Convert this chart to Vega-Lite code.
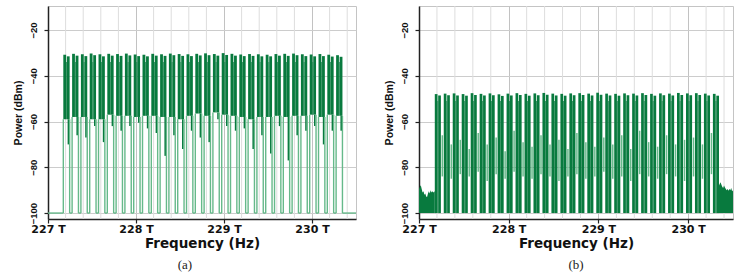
{
  "$schema": "https://vega.github.io/schema/vega-lite/v6.json",
  "padding": {"left": 12, "top": 5, "right": 4, "bottom": 0},
  "spacing": 25,
  "config": {
    "view": {"stroke": "#c4c4c4", "strokeWidth": 1},
    "axis": {"domainColor": "#222222", "domainWidth": 1.5, "tickColor": "#222222", "labelColor": "#111111", "titleColor": "#111111"}
  },
  "datasets": {
    "gridx": [
      {"gx": 227.2}, {"gx": 227.4}, {"gx": 227.6}, {"gx": 227.8},
      {"gx": 228.2}, {"gx": 228.4}, {"gx": 228.6}, {"gx": 228.8},
      {"gx": 229.2}, {"gx": 229.4}, {"gx": 229.6}, {"gx": 229.8},
      {"gx": 230.2}, {"gx": 230.4}
    ],
    "A": [
      {"lo": 227.174, "n1": 227.206, "n2": 227.214, "hi": 227.246, "g": 227.0, "tl": -30.8, "tr": -31.5, "b": -59, "s": 227.232, "sp": -70},
      {"lo": 227.274, "n1": 227.306, "n2": 227.314, "hi": 227.346, "g": 227.246, "tl": -30.4, "tr": -31.2, "b": -58, "s": 227.332, "sp": -66},
      {"lo": 227.374, "n1": 227.406, "n2": 227.414, "hi": 227.446, "g": 227.346, "tl": -30.6, "tr": -31.4, "b": -58, "s": 227.432, "sp": -67},
      {"lo": 227.474, "n1": 227.506, "n2": 227.514, "hi": 227.546, "g": 227.446, "tl": -30.3, "tr": -31.0, "b": -59, "s": 227.532, "sp": -62},
      {"lo": 227.574, "n1": 227.606, "n2": 227.614, "hi": 227.646, "g": 227.546, "tl": -30.6, "tr": -31.5, "b": -59, "s": 227.632, "sp": -69},
      {"lo": 227.674, "n1": 227.706, "n2": 227.714, "hi": 227.746, "g": 227.646, "tl": -30.4, "tr": -31.2, "b": -57, "s": 227.732, "sp": -62},
      {"lo": 227.774, "n1": 227.806, "n2": 227.814, "hi": 227.846, "g": 227.746, "tl": -30.5, "tr": -31.3, "b": -57.5, "s": 227.832, "sp": -64},
      {"lo": 227.874, "n1": 227.906, "n2": 227.914, "hi": 227.946, "g": 227.846, "tl": -30.3, "tr": -31.1, "b": -57.5, "s": 227.932, "sp": -62},
      {"lo": 227.974, "n1": 228.006, "n2": 228.014, "hi": 228.046, "g": 227.946, "tl": -30.7, "tr": -31.4, "b": -58, "s": 228.032, "sp": -60.5},
      {"lo": 228.074, "n1": 228.106, "n2": 228.114, "hi": 228.146, "g": 228.046, "tl": -30.8, "tr": -31.5, "b": -57.5, "s": 228.132, "sp": -63},
      {"lo": 228.174, "n1": 228.206, "n2": 228.214, "hi": 228.246, "g": 228.146, "tl": -30.4, "tr": -31.2, "b": -57.5, "s": 228.232, "sp": -65},
      {"lo": 228.274, "n1": 228.306, "n2": 228.314, "hi": 228.346, "g": 228.246, "tl": -30.6, "tr": -31.3, "b": -58, "s": 228.332, "sp": -75},
      {"lo": 228.374, "n1": 228.406, "n2": 228.414, "hi": 228.446, "g": 228.346, "tl": -30.3, "tr": -31.0, "b": -58, "s": 228.432, "sp": -66},
      {"lo": 228.474, "n1": 228.506, "n2": 228.514, "hi": 228.546, "g": 228.446, "tl": -30.5, "tr": -31.3, "b": -59, "s": 228.532, "sp": -72},
      {"lo": 228.574, "n1": 228.606, "n2": 228.614, "hi": 228.646, "g": 228.546, "tl": -30.6, "tr": -31.4, "b": -57.5, "s": 228.632, "sp": -64},
      {"lo": 228.674, "n1": 228.706, "n2": 228.714, "hi": 228.746, "g": 228.646, "tl": -30.4, "tr": -31.1, "b": -56.5, "s": 228.732, "sp": -67},
      {"lo": 228.774, "n1": 228.806, "n2": 228.814, "hi": 228.846, "g": 228.746, "tl": -30.2, "tr": -31.0, "b": -57.5, "s": 228.832, "sp": -69},
      {"lo": 228.874, "n1": 228.906, "n2": 228.914, "hi": 228.946, "g": 228.846, "tl": -30.5, "tr": -31.2, "b": -56, "s": 228.932, "sp": -59},
      {"lo": 228.974, "n1": 229.006, "n2": 229.014, "hi": 229.046, "g": 228.946, "tl": -30.1, "tr": -30.9, "b": -57, "s": 229.032, "sp": -62},
      {"lo": 229.074, "n1": 229.106, "n2": 229.114, "hi": 229.146, "g": 229.046, "tl": -30.4, "tr": -31.2, "b": -57.5, "s": 229.132, "sp": -64},
      {"lo": 229.174, "n1": 229.206, "n2": 229.214, "hi": 229.246, "g": 229.146, "tl": -30.7, "tr": -31.4, "b": -58, "s": 229.232, "sp": -63},
      {"lo": 229.274, "n1": 229.306, "n2": 229.314, "hi": 229.346, "g": 229.246, "tl": -30.5, "tr": -31.3, "b": -59, "s": 229.332, "sp": -72},
      {"lo": 229.374, "n1": 229.406, "n2": 229.414, "hi": 229.446, "g": 229.346, "tl": -30.6, "tr": -31.5, "b": -58, "s": 229.432, "sp": -66},
      {"lo": 229.474, "n1": 229.506, "n2": 229.514, "hi": 229.546, "g": 229.446, "tl": -30.8, "tr": -31.5, "b": -58, "s": 229.532, "sp": -74},
      {"lo": 229.574, "n1": 229.606, "n2": 229.614, "hi": 229.646, "g": 229.546, "tl": -30.5, "tr": -31.2, "b": -57.5, "s": 229.632, "sp": -62},
      {"lo": 229.674, "n1": 229.706, "n2": 229.714, "hi": 229.746, "g": 229.646, "tl": -30.4, "tr": -31.3, "b": -58, "s": 229.732, "sp": -77},
      {"lo": 229.774, "n1": 229.806, "n2": 229.814, "hi": 229.846, "g": 229.746, "tl": -30.3, "tr": -31.0, "b": -57.5, "s": 229.832, "sp": -66},
      {"lo": 229.874, "n1": 229.906, "n2": 229.914, "hi": 229.946, "g": 229.846, "tl": -30.6, "tr": -31.4, "b": -57.5, "s": 229.932, "sp": -64},
      {"lo": 229.974, "n1": 230.006, "n2": 230.014, "hi": 230.046, "g": 229.946, "tl": -30.7, "tr": -31.5, "b": -57, "s": 230.032, "sp": -62},
      {"lo": 230.074, "n1": 230.106, "n2": 230.114, "hi": 230.146, "g": 230.046, "tl": -30.5, "tr": -31.4, "b": -58, "s": 230.132, "sp": -70},
      {"lo": 230.174, "n1": 230.206, "n2": 230.214, "hi": 230.246, "g": 230.146, "tl": -30.8, "tr": -31.6, "b": -57, "s": 230.232, "sp": -64},
      {"lo": 230.274, "n1": 230.306, "n2": 230.314, "hi": 230.346, "g": 230.246, "tl": -31.0, "tr": -31.7, "b": -57.5, "s": 230.332, "sp": -64}
    ],
    "Atail": [{"g": 230.346, "lo": 230.5}],
    "B": [
      {"lo": 227.176, "n1": 227.206, "n2": 227.214, "hi": 227.244, "gx": 227.26, "tl": -48.0, "tr": -48.6, "gt": -66, "gb": -84},
      {"lo": 227.276, "n1": 227.306, "n2": 227.314, "hi": 227.344, "gx": 227.36, "tl": -47.8, "tr": -48.5, "gt": -70, "gb": -85},
      {"lo": 227.376, "n1": 227.406, "n2": 227.414, "hi": 227.444, "gx": 227.46, "tl": -47.7, "tr": -48.6, "gt": -68, "gb": -83},
      {"lo": 227.476, "n1": 227.506, "n2": 227.514, "hi": 227.544, "gx": 227.56, "tl": -48.0, "tr": -48.7, "gt": -72, "gb": -84},
      {"lo": 227.576, "n1": 227.606, "n2": 227.614, "hi": 227.644, "gx": 227.66, "tl": -47.6, "tr": -48.4, "gt": -65, "gb": -82},
      {"lo": 227.676, "n1": 227.706, "n2": 227.714, "hi": 227.744, "gx": 227.76, "tl": -47.9, "tr": -48.6, "gt": -70, "gb": -86},
      {"lo": 227.776, "n1": 227.806, "n2": 227.814, "hi": 227.844, "gx": 227.86, "tl": -47.7, "tr": -48.5, "gt": -67, "gb": -83},
      {"lo": 227.876, "n1": 227.906, "n2": 227.914, "hi": 227.944, "gx": 227.96, "tl": -48.1, "tr": -48.8, "gt": -73, "gb": -85},
      {"lo": 227.976, "n1": 228.006, "n2": 228.014, "hi": 228.044, "gx": 228.06, "tl": -47.8, "tr": -48.6, "gt": -64, "gb": -82},
      {"lo": 228.076, "n1": 228.106, "n2": 228.114, "hi": 228.144, "gx": 228.16, "tl": -47.6, "tr": -48.4, "gt": -69, "gb": -84},
      {"lo": 228.176, "n1": 228.206, "n2": 228.214, "hi": 228.244, "gx": 228.26, "tl": -47.9, "tr": -48.7, "gt": -71, "gb": -85},
      {"lo": 228.276, "n1": 228.306, "n2": 228.314, "hi": 228.344, "gx": 228.36, "tl": -47.7, "tr": -48.5, "gt": -66, "gb": -83},
      {"lo": 228.376, "n1": 228.406, "n2": 228.414, "hi": 228.444, "gx": 228.46, "tl": -47.5, "tr": -48.3, "gt": -70, "gb": -84},
      {"lo": 228.476, "n1": 228.506, "n2": 228.514, "hi": 228.544, "gx": 228.56, "tl": -47.8, "tr": -48.6, "gt": -68, "gb": -86},
      {"lo": 228.576, "n1": 228.606, "n2": 228.614, "hi": 228.644, "gx": 228.66, "tl": -47.9, "tr": -48.7, "gt": -72, "gb": -84},
      {"lo": 228.676, "n1": 228.706, "n2": 228.714, "hi": 228.744, "gx": 228.76, "tl": -47.7, "tr": -48.5, "gt": -65, "gb": -83},
      {"lo": 228.776, "n1": 228.806, "n2": 228.814, "hi": 228.844, "gx": 228.86, "tl": -47.6, "tr": -48.4, "gt": -69, "gb": -85},
      {"lo": 228.876, "n1": 228.906, "n2": 228.914, "hi": 228.944, "gx": 228.96, "tl": -47.8, "tr": -48.6, "gt": -71, "gb": -84},
      {"lo": 228.976, "n1": 229.006, "n2": 229.014, "hi": 229.044, "gx": 229.06, "tl": -47.4, "tr": -48.3, "gt": -67, "gb": -82},
      {"lo": 229.076, "n1": 229.106, "n2": 229.114, "hi": 229.144, "gx": 229.16, "tl": -47.8, "tr": -48.6, "gt": -70, "gb": -85},
      {"lo": 229.176, "n1": 229.206, "n2": 229.214, "hi": 229.244, "gx": 229.26, "tl": -47.9, "tr": -48.7, "gt": -66, "gb": -84},
      {"lo": 229.276, "n1": 229.306, "n2": 229.314, "hi": 229.344, "gx": 229.36, "tl": -47.7, "tr": -48.5, "gt": -72, "gb": -86},
      {"lo": 229.376, "n1": 229.406, "n2": 229.414, "hi": 229.444, "gx": 229.46, "tl": -47.8, "tr": -48.6, "gt": -64, "gb": -83},
      {"lo": 229.476, "n1": 229.506, "n2": 229.514, "hi": 229.544, "gx": 229.56, "tl": -47.6, "tr": -48.4, "gt": -69, "gb": -84},
      {"lo": 229.576, "n1": 229.606, "n2": 229.614, "hi": 229.644, "gx": 229.66, "tl": -47.9, "tr": -48.7, "gt": -71, "gb": -85},
      {"lo": 229.676, "n1": 229.706, "n2": 229.714, "hi": 229.744, "gx": 229.76, "tl": -47.7, "tr": -48.5, "gt": -66, "gb": -83},
      {"lo": 229.776, "n1": 229.806, "n2": 229.814, "hi": 229.844, "gx": 229.86, "tl": -47.8, "tr": -48.6, "gt": -70, "gb": -84},
      {"lo": 229.876, "n1": 229.906, "n2": 229.914, "hi": 229.944, "gx": 229.96, "tl": -47.5, "tr": -48.4, "gt": -68, "gb": -86},
      {"lo": 229.976, "n1": 230.006, "n2": 230.014, "hi": 230.044, "gx": 230.06, "tl": -47.7, "tr": -48.5, "gt": -67, "gb": -84},
      {"lo": 230.076, "n1": 230.106, "n2": 230.114, "hi": 230.144, "gx": 230.16, "tl": -47.6, "tr": -48.4, "gt": -70, "gb": -85},
      {"lo": 230.176, "n1": 230.206, "n2": 230.214, "hi": 230.244, "gx": 230.26, "tl": -47.8, "tr": -48.6, "gt": -65, "gb": -83},
      {"lo": 230.276, "n1": 230.306, "n2": 230.314, "hi": 230.344, "tl": -47.9, "tr": -48.7}
    ],
    "noise": [
      {"side": "L", "f": 227.0, "p": -89.5},
      {"side": "L", "f": 227.01, "p": -88.5},
      {"side": "L", "f": 227.02, "p": -87.8},
      {"side": "L", "f": 227.03, "p": -89.5},
      {"side": "L", "f": 227.04, "p": -91},
      {"side": "L", "f": 227.05, "p": -90.5},
      {"side": "L", "f": 227.06, "p": -92},
      {"side": "L", "f": 227.07, "p": -91.5},
      {"side": "L", "f": 227.08, "p": -92.8},
      {"side": "L", "f": 227.09, "p": -93},
      {"side": "L", "f": 227.1, "p": -91.5},
      {"side": "L", "f": 227.11, "p": -90.5},
      {"side": "L", "f": 227.12, "p": -91.5},
      {"side": "L", "f": 227.13, "p": -90},
      {"side": "L", "f": 227.14, "p": -91},
      {"side": "L", "f": 227.15, "p": -90.5},
      {"side": "L", "f": 227.16, "p": -91},
      {"side": "L", "f": 227.176, "p": -90.5},
      {"side": "R", "f": 230.344, "p": -88},
      {"side": "R", "f": 230.36, "p": -86.5},
      {"side": "R", "f": 230.37, "p": -87.5},
      {"side": "R", "f": 230.38, "p": -88.5},
      {"side": "R", "f": 230.39, "p": -89},
      {"side": "R", "f": 230.4, "p": -88},
      {"side": "R", "f": 230.41, "p": -88.8},
      {"side": "R", "f": 230.42, "p": -89.5},
      {"side": "R", "f": 230.43, "p": -90},
      {"side": "R", "f": 230.44, "p": -89.5},
      {"side": "R", "f": 230.45, "p": -90.2},
      {"side": "R", "f": 230.46, "p": -89.5},
      {"side": "R", "f": 230.47, "p": -90},
      {"side": "R", "f": 230.48, "p": -89},
      {"side": "R", "f": 230.49, "p": -90.5},
      {"side": "R", "f": 230.5, "p": -90}
    ]
  },
  "hconcat": [
    {
      "width": 308,
      "height": 213,
      "title": {"text": "(a)", "orient": "bottom", "font": "Liberation Serif", "fontSize": 13, "fontWeight": "normal", "color": "#222222", "anchor": "middle", "frame": "bounds", "offset": 9},
      "layer": [
        {
          "data": {"name": "gridx"},
          "mark": {"type": "rule", "color": "#dddddd", "strokeWidth": 1},
          "encoding": {
            "x": {"field": "gx", "type": "quantitative"}
          }
        },
        {
          "data": {"name": "A"},
          "mark": {"type": "rect", "color": "#087a3e"},
          "encoding": {
            "x": {"field": "lo", "type": "quantitative", "scale": {"domain": [227, 230.5], "nice": false, "zero": false},
              "axis": {
                "values": [227, 228, 229, 230],
                "format": "d",
                "title": "Frequency (Hz)", "titleFont": "DejaVu Sans", "titleFontSize": 13.5, "titleFontWeight": "bold", "titlePadding": 2,
                "labelFont": "DejaVu Sans", "labelFontSize": 11, "labelFontWeight": "bold", "labelPadding": 0,
                "labelExpr": "datum.label + ' T'",
                "labelFlush": false,
                "grid": true,
                "gridColor": "#c2c2c2",
                "tickSize": 4,
                "tickWidth": 1.2
              }},
            "x2": {"field": "n1"},
            "y": {"field": "tl", "type": "quantitative", "scale": {"domain": [-102.6, -9.5], "nice": false, "zero": false},
              "axis": {
                "values": [-100, -95, -90, -85, -80, -75, -70, -65, -60, -55, -50, -45, -40, -35, -30, -25, -20, -15, -10],
                "title": "Power (dBm)", "titleFont": "Liberation Sans", "titleFontSize": 10.5, "titleFontWeight": "bold", "titlePadding": 5,
                "labelFont": "Liberation Sans", "labelFontSize": 9.5, "labelFontWeight": "bold", "labelPadding": 6,
                "labelAngle": 270, "labelAlign": "center", "labelBaseline": "bottom",
                "labelExpr": "datum.value % 20 === 0 ? format(datum.value, 'd') : ''",
                "labelFlush": false,
                "grid": true,
                "gridColor": {"condition": {"test": "datum.value % 20 === 0", "value": "#cccccc"}, "value": "#e2e2e2"},
                "tickSize": 4,
                "tickWidth": 1.2
              }},
            "y2": {"field": "b"}
          }
        },
        {
          "data": {"name": "A"},
          "mark": {"type": "rect", "color": "#087a3e"},
          "encoding": {
            "x": {"field": "n1", "type": "quantitative"},
            "x2": {"field": "n2"},
            "y": {"field": "b", "type": "quantitative"},
            "y2": {"datum": -34}
          }
        },
        {
          "data": {"name": "A"},
          "mark": {"type": "rect", "color": "#087a3e"},
          "encoding": {
            "x": {"field": "n2", "type": "quantitative"},
            "x2": {"field": "hi"},
            "y": {"field": "tr", "type": "quantitative"},
            "y2": {"field": "b"}
          }
        },
        {
          "data": {"name": "A"},
          "mark": {"type": "rule", "color": "#087a3e", "strokeWidth": 1.6},
          "encoding": {
            "x": {"field": "s", "type": "quantitative"},
            "y": {"field": "b", "type": "quantitative"},
            "y2": {"field": "sp"}
          }
        },
        {
          "data": {"name": "A"},
          "mark": {"type": "rule", "color": "#66b98a", "strokeWidth": 1.4},
          "encoding": {
            "x": {"field": "lo", "type": "quantitative"},
            "y": {"field": "b", "type": "quantitative"},
            "y2": {"datum": -100}
          }
        },
        {
          "data": {"name": "A"},
          "mark": {"type": "rule", "color": "#66b98a", "strokeWidth": 1.4},
          "encoding": {
            "x": {"field": "hi", "type": "quantitative"},
            "y": {"field": "b", "type": "quantitative"},
            "y2": {"datum": -100}
          }
        },
        {
          "data": {"name": "A"},
          "mark": {"type": "rule", "color": "#66b98a", "strokeWidth": 1.4},
          "encoding": {
            "x": {"field": "g", "type": "quantitative"},
            "x2": {"field": "lo"},
            "y": {"datum": -100, "type": "quantitative"}
          }
        },
        {
          "data": {"name": "Atail"},
          "mark": {"type": "rule", "color": "#66b98a", "strokeWidth": 1.4},
          "encoding": {
            "x": {"field": "g", "type": "quantitative"},
            "x2": {"field": "lo"},
            "y": {"datum": -100, "type": "quantitative"}
          }
        }
      ]
    },
    {
      "width": 314,
      "height": 213,
      "title": {"text": "(b)", "orient": "bottom", "font": "Liberation Serif", "fontSize": 13, "fontWeight": "normal", "color": "#222222", "anchor": "middle", "frame": "group", "offset": 9},
      "layer": [
        {
          "data": {"name": "gridx"},
          "mark": {"type": "rule", "color": "#dddddd", "strokeWidth": 1},
          "encoding": {
            "x": {"field": "gx", "type": "quantitative"}
          }
        },
        {
          "data": {"name": "noise"},
          "mark": {"type": "area", "color": "#087a3e", "interpolate": "linear"},
          "encoding": {
            "x": {"field": "f", "type": "quantitative", "scale": {"domain": [227, 230.5], "nice": false, "zero": false},
              "axis": {
                "values": [227, 228, 229, 230],
                "format": "d",
                "title": "Frequency (Hz)", "titleFont": "DejaVu Sans", "titleFontSize": 13.5, "titleFontWeight": "bold", "titlePadding": 2,
                "labelFont": "DejaVu Sans", "labelFontSize": 11, "labelFontWeight": "bold", "labelPadding": 0,
                "labelExpr": "datum.label + ' T'",
                "labelFlush": false,
                "grid": true,
                "gridColor": "#c2c2c2",
                "tickSize": 4,
                "tickWidth": 1.2
              }},
            "y": {"field": "p", "type": "quantitative", "scale": {"domain": [-102.6, -9.5], "nice": false, "zero": false},
              "axis": {
                "values": [-100, -95, -90, -85, -80, -75, -70, -65, -60, -55, -50, -45, -40, -35, -30, -25, -20, -15, -10],
                "title": "Power (dBm)", "titleFont": "Liberation Sans", "titleFontSize": 10.5, "titleFontWeight": "bold", "titlePadding": 5,
                "labelFont": "Liberation Sans", "labelFontSize": 9.5, "labelFontWeight": "bold", "labelPadding": 6,
                "labelAngle": 270, "labelAlign": "center", "labelBaseline": "bottom",
                "labelExpr": "datum.value % 20 === 0 ? format(datum.value, 'd') : ''",
                "labelFlush": false,
                "grid": true,
                "gridColor": {"condition": {"test": "datum.value % 20 === 0", "value": "#cccccc"}, "value": "#e2e2e2"},
                "tickSize": 4,
                "tickWidth": 1.2
              }},
            "y2": {"datum": -100},
            "detail": {"field": "side", "type": "nominal"}
          }
        },
        {
          "data": {"name": "B"},
          "mark": {"type": "rect", "color": "#087a3e"},
          "encoding": {
            "x": {"field": "lo", "type": "quantitative"},
            "x2": {"field": "n1"},
            "y": {"field": "tl", "type": "quantitative"},
            "y2": {"datum": -100}
          }
        },
        {
          "data": {"name": "B"},
          "mark": {"type": "rect", "color": "#087a3e"},
          "encoding": {
            "x": {"field": "n1", "type": "quantitative"},
            "x2": {"field": "n2"},
            "y": {"datum": -100, "type": "quantitative"},
            "y2": {"datum": -51}
          }
        },
        {
          "data": {"name": "B"},
          "mark": {"type": "rect", "color": "#087a3e"},
          "encoding": {
            "x": {"field": "n2", "type": "quantitative"},
            "x2": {"field": "hi"},
            "y": {"field": "tr", "type": "quantitative"},
            "y2": {"datum": -100}
          }
        },
        {
          "data": {"name": "B"},
          "mark": {"type": "rule", "color": "#66b98a", "strokeWidth": 1.5},
          "encoding": {
            "x": {"field": "gx", "type": "quantitative"},
            "y": {"field": "gt", "type": "quantitative"},
            "y2": {"field": "gb"}
          }
        }
      ]
    }
  ]
}
